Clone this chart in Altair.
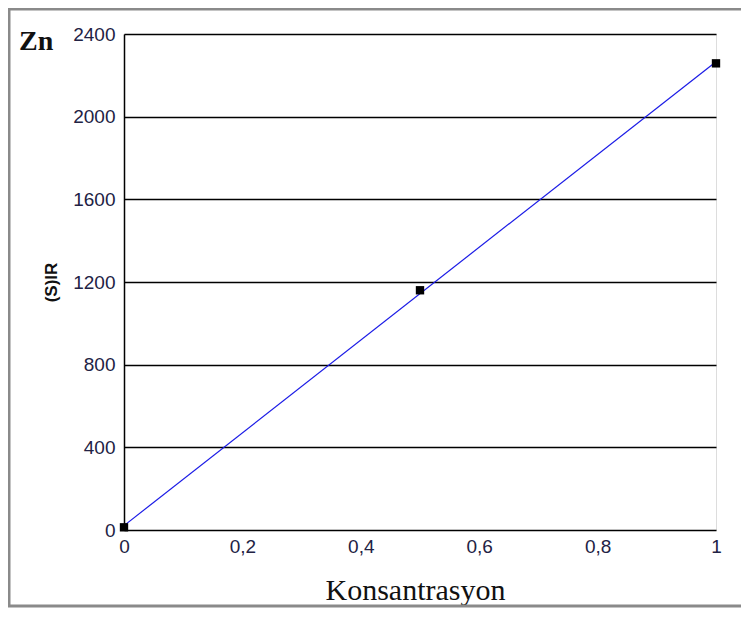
import altair as alt
import pandas as pd

konsantrasyon = [0.0, 0.5, 1.0]
sir_values = [13, 1160, 2258]
y_ticks = [0, 400, 800, 1200, 1600, 2000, 2400]
x_ticks = [0, 0.2, 0.4, 0.6, 0.8, 1.0]

df = pd.DataFrame({"x": konsantrasyon, "y": sir_values})
frame_df = pd.DataFrame({"a": [0]})

W, H = 592, 496

xscale = alt.Scale(domain=[0, 1], nice=False, zero=False)
yscale = alt.Scale(domain=[0, 2400], nice=False)

xaxis = alt.Axis(
    values=x_ticks, grid=False, ticks=False, domain=False, labelFlush=False,
    labelExpr="replace(toString(datum.value), '.', ',')",
    labelFont="Liberation Sans", labelFontSize=19, labelColor="#222244",
    labelPadding=7,
    title="Konsantrasyon", titleFont="Liberation Serif", titleFontSize=30,
    titleFontWeight="normal", titleColor="#111111",
    titleX=291, titleY=69, titleBaseline="alphabetic", titleAlign="center",
)
yaxis = alt.Axis(
    values=y_ticks, format="d", grid=True, gridColor="#000000", gridWidth=1.5,
    gridOpacity=1, labelFlush=False,
    ticks=False, domain=True, domainColor="#000000", domainWidth=1.5,
    labelFont="Liberation Sans", labelFontSize=19, labelColor="#222244",
    labelPadding=9,
    title="(S)IR", titleFont="Liberation Sans", titleFontSize=17,
    titleFontWeight="bold", titleColor="#111111",
    titleX=-73, titleY=H / 2, titleAngle=-90, titleAlign="center",
    titleBaseline="middle",
)

base = alt.Chart(df)

frame_style = dict(color="#8a8a8a", strokeWidth=3, clip=False)
frame_top = alt.Chart(frame_df).mark_rule(**frame_style).encode(
    x=alt.value(-116), x2=alt.value(633), y=alt.value(-25)
)
frame_left = alt.Chart(frame_df).mark_rule(**frame_style).encode(
    x=alt.value(-115), y=alt.value(-26), y2=alt.value(573)
)
frame_bottom = alt.Chart(frame_df).mark_rule(**frame_style).encode(
    x=alt.value(-116), x2=alt.value(633), y=alt.value(572)
)

line = base.transform_regression("x", "y").mark_line(
    color="#1a1ae6", strokeWidth=1.2
).encode(
    x=alt.X("x:Q", scale=xscale, axis=xaxis),
    y=alt.Y("y:Q", scale=yscale, axis=yaxis),
)

points = base.mark_square(size=70, color="#000000", opacity=1).encode(
    x=alt.X("x:Q", scale=xscale),
    y=alt.Y("y:Q", scale=yscale),
)

title_txt = alt.Chart(frame_df).mark_text(
    text="Zn", font="Liberation Serif", fontSize=28, fontWeight="bold",
    align="left", baseline="alphabetic", color="#111111"
).encode(x=alt.value(-105), y=alt.value(16))

chart = alt.layer(
    frame_top, frame_left, frame_bottom, line, points, title_txt
).properties(
    width=W, height=H,
    autosize=alt.AutoSizeParams(type="none"),
    padding={"left": 116, "top": 26, "right": 25, "bottom": 78},
).configure_view(
    stroke="#555555", strokeWidth=1.5
).configure(background="white")

chart.save("out.html", embed_options={"renderer": "svg", "actions": False})
